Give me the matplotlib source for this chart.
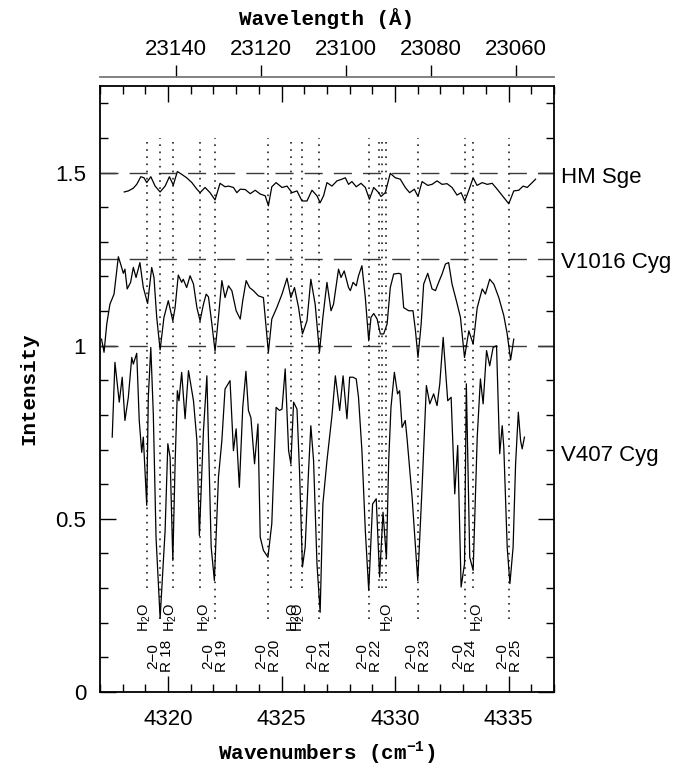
import matplotlib.pyplot as plt
from matplotlib.ticker import MultipleLocator, NullLocator

# HM Sge spectrum (wavenumber in cm^-1, intensity with offset)
hm_wn = [4318.07, 4318.25, 4318.47, 4318.62, 4318.80, 4318.94, 4319.06, 4319.24, 4319.43, 4319.65,
         4319.87, 4320.06, 4320.23, 4320.41, 4320.60, 4320.82, 4321.05, 4321.27, 4321.41, 4321.63,
         4321.85, 4322.07, 4322.29, 4322.51, 4322.66, 4322.88, 4323.03, 4323.18, 4323.40, 4323.62,
         4323.84, 4324.06, 4324.28, 4324.42, 4324.57, 4324.76, 4325.02, 4325.24, 4325.46, 4325.68,
         4325.90, 4326.12, 4326.34, 4326.56, 4326.70, 4326.85, 4327.00, 4327.22, 4327.44, 4327.66,
         4327.81, 4327.95, 4328.10, 4328.29, 4328.50, 4328.69, 4328.87, 4329.06, 4329.25, 4329.38,
         4329.57, 4329.79, 4330.01, 4330.23, 4330.45, 4330.64, 4330.85, 4331.01, 4331.19, 4331.44,
         4331.63, 4331.85, 4332.07, 4332.29, 4332.51, 4332.73, 4332.91, 4333.07, 4333.25, 4333.44,
         4333.61, 4333.84, 4334.06, 4334.28, 4334.50, 4334.79, 4335.01, 4335.23, 4335.45, 4335.64,
         4335.82, 4336.04, 4336.19]
hm_int = [1.444, 1.447, 1.455, 1.466, 1.488, 1.485, 1.471, 1.488, 1.461, 1.444,
          1.461, 1.488, 1.464, 1.503, 1.495, 1.485, 1.471, 1.452, 1.442, 1.457,
          1.442, 1.421, 1.469, 1.459, 1.461, 1.457, 1.442, 1.452, 1.451, 1.439,
          1.449, 1.438, 1.433, 1.404, 1.459, 1.471, 1.457, 1.461, 1.442, 1.447,
          1.418, 1.418, 1.449, 1.433, 1.413, 1.433, 1.471, 1.461, 1.476, 1.481,
          1.485, 1.466, 1.474, 1.459, 1.469, 1.457, 1.423, 1.457, 1.444, 1.431,
          1.442, 1.498, 1.485, 1.481, 1.457, 1.442, 1.452, 1.431, 1.474, 1.463,
          1.466, 1.476, 1.466, 1.468, 1.457, 1.435, 1.442, 1.418, 1.449, 1.485,
          1.463, 1.471, 1.466, 1.469, 1.452, 1.428, 1.410, 1.447, 1.449, 1.461,
          1.457, 1.471, 1.481]

# V1016 Cyg spectrum
v1016_wn = [4317.07, 4317.18, 4317.30, 4317.44, 4317.62, 4317.81, 4317.91, 4318.03, 4318.10, 4318.20,
            4318.35, 4318.47, 4318.59, 4318.76, 4318.91, 4319.10, 4319.28, 4319.38, 4319.50, 4319.65,
            4319.82, 4320.01, 4320.21, 4320.31, 4320.45, 4320.60, 4320.67, 4320.82, 4320.97, 4321.12,
            4321.27, 4321.41, 4321.56, 4321.68, 4321.78, 4321.93, 4322.07, 4322.22, 4322.37, 4322.51,
            4322.66, 4322.81, 4323.00, 4323.18, 4323.29, 4323.44, 4323.59, 4323.76, 4323.98, 4324.20,
            4324.42, 4324.57, 4324.79, 4325.02, 4325.24, 4325.41, 4325.57, 4325.75, 4325.92, 4326.12,
            4326.29, 4326.48, 4326.67, 4326.82, 4327.00, 4327.18, 4327.29, 4327.51, 4327.62, 4327.76,
            4327.95, 4328.03, 4328.15, 4328.29, 4328.39, 4328.54, 4328.69, 4328.84, 4328.94, 4329.06,
            4329.21, 4329.35, 4329.50, 4329.65, 4329.79, 4329.94, 4330.16, 4330.26, 4330.38, 4330.60,
            4330.79, 4330.90, 4331.01, 4331.15, 4331.26, 4331.44, 4331.63, 4331.78, 4331.92, 4332.07,
            4332.22, 4332.36, 4332.51, 4332.70, 4332.88, 4333.06, 4333.25, 4333.44, 4333.62, 4333.84,
            4333.98, 4334.17, 4334.35, 4334.57, 4334.79, 4334.94, 4335.09, 4335.23]
v1016_int = [1.019, 0.981, 1.063, 1.120, 1.149, 1.257, 1.236, 1.209, 1.221, 1.164,
             1.183, 1.226, 1.197, 1.240, 1.168, 1.122, 1.226, 1.197, 1.082, 0.988,
             1.082, 1.130, 1.072, 1.110, 1.204, 1.183, 1.192, 1.168, 1.202, 1.178,
             1.110, 1.072, 1.120, 1.149, 1.141, 1.063, 0.984, 1.082, 1.188, 1.139,
             1.173, 1.159, 1.101, 1.077, 1.130, 1.188, 1.168, 1.159, 1.144, 1.139,
             0.981, 1.077, 1.110, 1.149, 1.195, 1.139, 1.168, 1.110, 1.034, 1.072,
             1.192, 1.120, 0.981, 1.082, 1.183, 1.101, 1.120, 1.221, 1.197, 1.216,
             1.168, 1.159, 1.183, 1.173, 1.202, 1.231, 1.139, 1.014, 1.082, 1.093,
             1.077, 1.034, 1.034, 1.063, 1.168, 1.207, 1.209, 1.207, 1.110, 1.101,
             1.101, 1.043, 0.966, 1.063, 1.178, 1.209, 1.164, 1.159, 1.183, 1.207,
             1.236, 1.240, 1.178, 1.130, 1.082, 0.966, 1.043, 1.005, 1.110, 1.164,
             1.149, 1.192, 1.178, 1.139, 1.087, 1.034, 0.959, 1.019]

# V407 Cyg spectrum
v407_wn = [4317.54, 4317.66, 4317.85, 4317.98, 4318.10, 4318.25, 4318.40, 4318.47, 4318.62, 4318.73,
           4318.84, 4318.91, 4319.06, 4319.13, 4319.24, 4319.35, 4319.47, 4319.65, 4319.87, 4319.99,
           4320.09, 4320.21, 4320.31, 4320.41, 4320.48, 4320.60, 4320.75, 4320.90, 4321.12, 4321.27,
           4321.38, 4321.56, 4321.71, 4321.90, 4322.04, 4322.22, 4322.37, 4322.51, 4322.73, 4322.88,
           4323.00, 4323.14, 4323.29, 4323.43, 4323.54, 4323.65, 4323.81, 4323.96, 4324.06, 4324.20,
           4324.40, 4324.57, 4324.76, 4324.91, 4325.02, 4325.16, 4325.31, 4325.41, 4325.53, 4325.68,
           4325.79, 4325.92, 4326.04, 4326.19, 4326.29, 4326.41, 4326.56, 4326.70, 4326.82, 4327.00,
           4327.22, 4327.37, 4327.56, 4327.71, 4327.88, 4328.00, 4328.15, 4328.29, 4328.39, 4328.54,
           4328.69, 4328.84, 4329.01, 4329.17, 4329.32, 4329.47, 4329.62, 4329.72, 4329.82, 4329.97,
           4330.11, 4330.20, 4330.31, 4330.45, 4330.53, 4330.75, 4331.00, 4331.19, 4331.38, 4331.53,
           4331.70, 4331.85, 4331.97, 4332.12, 4332.32, 4332.47, 4332.63, 4332.76, 4332.91, 4333.06,
           4333.14, 4333.29, 4333.44, 4333.62, 4333.76, 4333.88, 4334.03, 4334.17, 4334.32, 4334.47,
           4334.61, 4334.72, 4334.79, 4334.94, 4335.06, 4335.20, 4335.31, 4335.43, 4335.53, 4335.60,
           4335.70]
v407_int = [0.736, 0.952, 0.837, 0.909, 0.784, 0.851, 0.966, 0.947, 0.978, 0.784,
            0.692, 0.736, 0.539, 0.851, 0.995, 0.803, 0.447, 0.213, 0.466, 0.717,
            0.678, 0.380, 0.659, 0.870, 0.841, 0.923, 0.789, 0.928, 0.841, 0.726,
            0.452, 0.755, 0.913, 0.418, 0.322, 0.620, 0.726, 0.875, 0.899, 0.697,
            0.760, 0.591, 0.822, 0.926, 0.813, 0.792, 0.659, 0.774, 0.447, 0.409,
            0.389, 0.486, 0.822, 0.813, 0.817, 0.933, 0.697, 0.659, 0.837, 0.817,
            0.640, 0.361, 0.418, 0.640, 0.769, 0.668, 0.370, 0.230, 0.543, 0.668,
            0.798, 0.913, 0.813, 0.913, 0.789, 0.909, 0.909, 0.904, 0.851, 0.697,
            0.466, 0.293, 0.543, 0.558, 0.332, 0.519, 0.385, 0.668, 0.822, 0.923,
            0.861, 0.870, 0.764, 0.784, 0.731, 0.563, 0.322, 0.591, 0.885, 0.832,
            0.861, 0.827, 0.890, 1.024, 0.841, 0.851, 0.572, 0.712, 0.303, 0.370,
            0.890, 0.389, 0.351, 0.736, 0.904, 0.832, 0.986, 0.942, 0.995, 1.000,
            0.688, 0.769, 0.707, 0.418, 0.313, 0.418, 0.659, 0.808, 0.726, 0.702,
            0.736]

# line identifications
co_lines = [4319.65, 4322.07, 4324.40, 4326.67, 4328.87, 4331.01, 4333.07, 4335.04]
co_labels = ['2\u22120\nR 18', '2\u22120\nR 19', '2\u22120\nR 20', '2\u22120\nR 21',
             '2\u22120\nR 22', '2\u22120\nR 23', '2\u22120\nR 24', '2\u22120\nR 25']
h2o_lines = [4319.06, 4320.23, 4321.41, 4325.43, 4325.91, 4329.28, 4329.43, 4329.60, 4333.44]
h2o_label_pos = [4318.99, 4320.12, 4321.62, 4325.55, 4325.74, 4329.66, 4333.62]

levels = [1.5, 1.25, 1.0]
star_names = ['HM Sge', 'V1016 Cyg', 'V407 Cyg']
star_label_y = [1.487, 1.240, 0.683]

wl_ticks = [23140, 23120, 23100, 23080, 23060]
wn_shift = 1.18

plt.rcParams['font.family'] = ['Liberation Sans', 'DejaVu Sans']
mono = dict(family='Liberation Mono', weight='bold', size=15)

fig = plt.figure(figsize=(6.99, 7.68), dpi=100)
ax = fig.add_axes([0.143, 0.099, 0.6495, 0.789])

for lv in levels:
    ax.axhline(lv, color='#3a3a3a', lw=1.0, dashes=(13, 8))

for x in co_lines:
    ax.plot([x, x], [0.21, 1.6], color='#222222', lw=1.2, ls=(0, (1, 3.3)))
for x in h2o_lines:
    ax.plot([x, x], [0.30, 1.6], color='#222222', lw=1.2, ls=(0, (1, 3.3)))

ax.plot(hm_wn, hm_int, color='black', lw=0.9)
ax.plot(v1016_wn, v1016_int, color='black', lw=0.9)
ax.plot(v407_wn, v407_int, color='black', lw=0.9)

for x, lab in zip(co_lines, co_labels):
    ax.text(x, 0.105, lab, rotation=90, ha='center', va='center', fontsize=11, linespacing=0.95)
for x in h2o_label_pos:
    ax.text(x, 0.217, 'H$_{\\mathregular{2}}$O', rotation=90, ha='center', va='center', fontsize=10.5)

for name, y in zip(star_names, star_label_y):
    ax.text(1.015, y, name, transform=ax.get_yaxis_transform(), ha='left', va='center', fontsize=16)

ax.set_xlim(4317, 4337)
ax.set_ylim(0, 1.75)
ax.set_xticks([4320, 4325, 4330, 4335])
ax.xaxis.set_minor_locator(MultipleLocator(1))
ax.set_yticks([0, 0.5, 1, 1.5])
ax.set_yticklabels(['0', '0.5', '1', '1.5'])
ax.yaxis.set_minor_locator(MultipleLocator(0.1))
ax.tick_params(which='both', direction='in', top=True, right=True, labelsize=16, width=1)
ax.tick_params(which='major', length=11.5)
ax.tick_params(which='minor', length=5.8)
ax.tick_params(axis='x', pad=12)
ax.tick_params(axis='y', pad=10)
for sp in ax.spines.values():
    sp.set_linewidth(1.3)

ax.set_xlabel('Wavenumbers (cm$^{\\mathregular{-1}}$)', fontdict=mono, labelpad=7)
ax.set_ylabel('Intensity', fontdict=mono, labelpad=12)

sec = ax.secondary_xaxis(1.015, functions=(lambda nu: 1e8 / (nu + wn_shift),
                                           lambda lam: 1e8 / lam - wn_shift))
sec.set_xticks(wl_ticks)
sec.set_xticklabels([str(t) for t in wl_ticks])
sec.xaxis.set_minor_locator(NullLocator())
sec.tick_params(direction='out', length=9, width=1, labelsize=16, pad=3)
for sp in sec.spines.values():
    sp.set_color('#777777')
    sp.set_linewidth(1.3)
sec.set_xlabel('Wavelength (\u00c5)', fontdict=mono, labelpad=10)

fig.savefig('out.png', dpi=100)
